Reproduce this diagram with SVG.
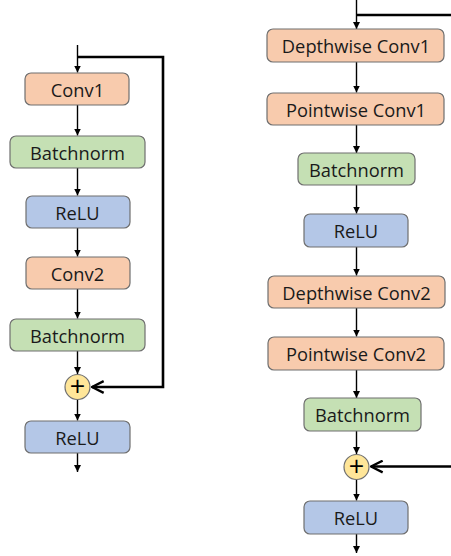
<svg xmlns="http://www.w3.org/2000/svg" width="451" height="556" viewBox="0 0 451 556">
<style>
.box{stroke:#6f6f6f;stroke-width:1.2}
.or{fill:#F8CBAD}.gr{fill:#C5E0B4}.bl{fill:#B4C7E7}
.add{fill:#FFE699;stroke:#6f6f6f;stroke-width:1.2}
text{font-family:"Open Sans","Liberation Sans",sans-serif;font-size:18.3px;fill:#1a1a1a;text-anchor:middle;dominant-baseline:central}
.plus{font-size:27px;fill:#000;font-weight:500}
.ln{fill:none;stroke:#000;stroke-width:1.4}
.sk{fill:none;stroke:#000;stroke-width:2.6}
</style>
<defs>
<marker id="ah" viewBox="0 0 10 10" refX="10" refY="5" markerWidth="7" markerHeight="7" markerUnits="userSpaceOnUse" orient="auto"><path d="M0,0 L10,5 L0,10 z" fill="#000"/></marker>
<marker id="oh" viewBox="0 0 12 12" refX="11" refY="6" markerWidth="14" markerHeight="14" markerUnits="userSpaceOnUse" orient="auto"><path d="M1,1 L11,6 L1,11" fill="none" stroke="#000" stroke-width="2"/></marker>
</defs>
<g id="connectors">
<line class="ln" x1="77.5" y1="45" x2="77.5" y2="72.5" marker-end="url(#ah)"/>
<line class="ln" x1="77.5" y1="105" x2="77.5" y2="135.5" marker-end="url(#ah)"/>
<line class="ln" x1="77.5" y1="168" x2="77.5" y2="195.5" marker-end="url(#ah)"/>
<line class="ln" x1="77.5" y1="228" x2="77.5" y2="256.5" marker-end="url(#ah)"/>
<line class="ln" x1="77.5" y1="289" x2="77.5" y2="318.5" marker-end="url(#ah)"/>
<line class="ln" x1="77.5" y1="351" x2="77.5" y2="374" marker-end="url(#ah)"/>
<line class="ln" x1="77.5" y1="399.5" x2="77.5" y2="420.5" marker-end="url(#ah)"/>
<line class="ln" x1="77.5" y1="453" x2="77.5" y2="472" marker-end="url(#ah)"/>
<polyline class="sk" points="77.5,57 163,57 163,387 92,387" marker-end="url(#oh)"/>
<line class="ln" x1="356.5" y1="0" x2="356.5" y2="29" marker-end="url(#ah)"/>
<line class="ln" x1="356.5" y1="62" x2="356.5" y2="92.5" marker-end="url(#ah)"/>
<line class="ln" x1="356.5" y1="125" x2="356.5" y2="153" marker-end="url(#ah)"/>
<line class="ln" x1="356.5" y1="185" x2="356.5" y2="213.5" marker-end="url(#ah)"/>
<line class="ln" x1="356.5" y1="247" x2="356.5" y2="275.5" marker-end="url(#ah)"/>
<line class="ln" x1="356.5" y1="308" x2="356.5" y2="336.5" marker-end="url(#ah)"/>
<line class="ln" x1="356.5" y1="370" x2="356.5" y2="398" marker-end="url(#ah)"/>
<line class="ln" x1="356.5" y1="431" x2="356.5" y2="454" marker-end="url(#ah)"/>
<line class="ln" x1="356.5" y1="479.5" x2="356.5" y2="500.5" marker-end="url(#ah)"/>
<line class="ln" x1="356.5" y1="534" x2="356.5" y2="553" marker-end="url(#ah)"/>
<line class="sk" x1="356" y1="15" x2="451" y2="15"/>
<line class="sk" x1="451" y1="466.5" x2="371" y2="466.5" marker-end="url(#oh)"/>
</g>
<g id="l-conv1"><rect class="box or" x="25" y="73" width="104" height="32" rx="6"/><text x="77.5" y="89">Conv1</text></g>
<g id="l-bn1"><rect class="box gr" x="10" y="136" width="135" height="32" rx="6"/><text x="77.5" y="152">Batchnorm</text></g>
<g id="l-relu1"><rect class="box bl" x="26" y="196" width="104" height="32" rx="6"/><text x="77.5" y="212">ReLU</text></g>
<g id="l-conv2"><rect class="box or" x="26" y="257" width="104" height="32" rx="6"/><text x="77.5" y="273">Conv2</text></g>
<g id="l-bn2"><rect class="box gr" x="10" y="319" width="135" height="32" rx="6"/><text x="77.5" y="335">Batchnorm</text></g>
<g id="l-add"><circle class="add" cx="77.5" cy="387" r="12.5"/><text class="plus" x="77.5" y="385.5">+</text></g>
<g id="l-relu2"><rect class="box bl" x="25" y="421" width="105" height="32" rx="6"/><text x="77.5" y="437">ReLU</text></g>
<g id="r-dw1"><rect class="box or" x="267" y="29" width="177" height="33" rx="6"/><text x="356" y="45.5">Depthwise Conv1</text></g>
<g id="r-pw1"><rect class="box or" x="267" y="93" width="177" height="32" rx="6"/><text x="356" y="109">Pointwise Conv1</text></g>
<g id="r-bn1"><rect class="box gr" x="298" y="153" width="117" height="32" rx="6"/><text x="356.5" y="169">Batchnorm</text></g>
<g id="r-relu1"><rect class="box bl" x="304" y="214" width="104" height="33" rx="6"/><text x="356" y="230.5">ReLU</text></g>
<g id="r-dw2"><rect class="box or" x="268" y="276" width="177" height="32" rx="6"/><text x="356.5" y="292">Depthwise Conv2</text></g>
<g id="r-pw2"><rect class="box or" x="268" y="337" width="176" height="33" rx="6"/><text x="356" y="353.5">Pointwise Conv2</text></g>
<g id="r-bn2"><rect class="box gr" x="304" y="398" width="117" height="33" rx="6"/><text x="362.5" y="414.5">Batchnorm</text></g>
<g id="r-add"><circle class="add" cx="356.5" cy="467" r="12.5"/><text class="plus" x="356.5" y="465.5">+</text></g>
<g id="r-relu2"><rect class="box bl" x="304" y="501" width="104" height="33" rx="6"/><text x="356" y="517.5">ReLU</text></g>
</svg>
